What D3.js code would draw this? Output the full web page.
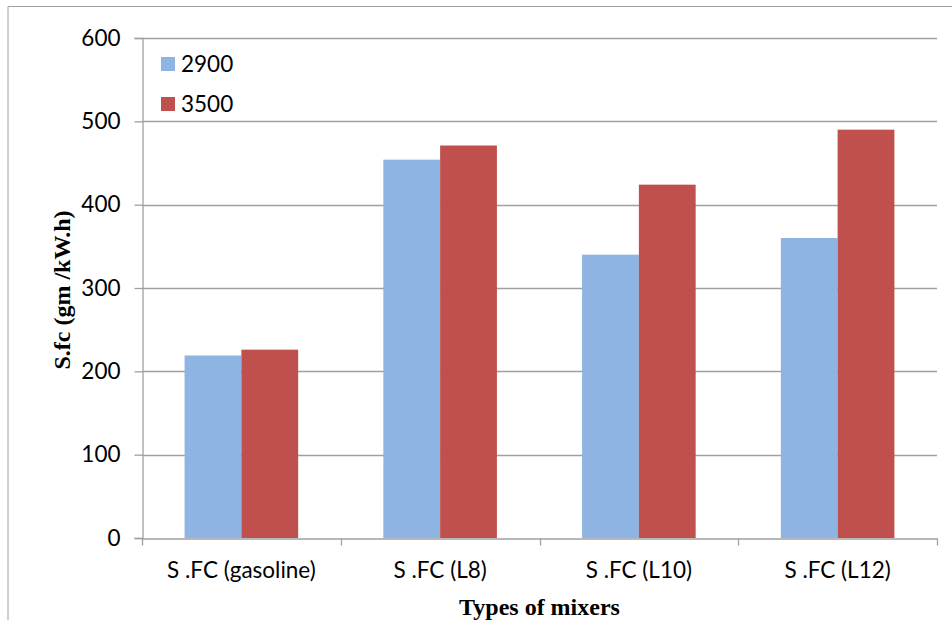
<!DOCTYPE html>
<html>
<head>
<meta charset="utf-8">
<script src="https://cdn.jsdelivr.net/npm/d3@7"></script>
<style>
  body { margin: 0; background: #fff; }
  svg { display: block; }
  .tick-label { font-family: "Lato", "Liberation Sans", sans-serif; font-size: 22.5px; fill: #000; }
  .axis-title { font-family: "Liberation Serif", "Times New Roman", serif; font-size: 24px; font-weight: bold; fill: #000; }
</style>
</head>
<body>
<div id="chart"></div>
<script>
const categories = ["S .FC (gasoline)", "S .FC (L8)", "S .FC (L10)", "S .FC (L12)"];
const seriesNames = ["2900", "3500"];
const values2900 = [219, 454, 340, 360];
const values3500 = [226, 471, 424, 490];
const yTicks = [0, 100, 200, 300, 400, 500, 600];
const colors = ["#8EB4E3", "#C0504D"];

const width = 952, height = 623;
const plot = {left: 142, right: 937, top: 38, bottom: 538};
const gridColor = "#a0a0a0";

const svg = d3.select('#chart').append('svg')
    .attr('width', width)
    .attr('height', height);

// outer frame (top and left edges only are visible)
svg.append('line')
    .attr('x1', 8).attr('x2', width).attr('y1', 6.5).attr('y2', 6.5)
    .attr('stroke', gridColor).attr('stroke-width', 1);
svg.append('line')
    .attr('x1', 8).attr('x2', 8).attr('y1', 6.5).attr('y2', 620)
    .attr('stroke', gridColor).attr('stroke-width', 1);

const y = d3.scaleLinear()
    .domain([0, 600])
    .range([plot.bottom, plot.top]);

const gap = 1.5 / 3.5;
const x0 = d3.scaleBand()
    .domain(categories)
    .range([plot.left, plot.right])
    .paddingInner(gap)
    .paddingOuter(gap / 2);

const x1 = d3.scaleBand()
    .domain(seriesNames)
    .range([0, x0.bandwidth()]);

// gridlines
svg.append('g')
    .selectAll('line')
    .data(yTicks.filter(d => d > 0))
    .join('line')
    .attr('x1', plot.left).attr('x2', plot.right)
    .attr('y1', d => Math.round(y(d)) + 0.5)
    .attr('y2', d => Math.round(y(d)) + 0.5)
    .attr('stroke', gridColor)
    .attr('stroke-width', 1.3);

// bars
const rows = categories.map((c, i) => ({cat: c, vals: [values2900[i], values3500[i]]}));
const groups = svg.append('g')
    .selectAll('g')
    .data(rows)
    .join('g')
    .attr('transform', d => "translate(" + x0(d.cat) + ",0)");

groups.selectAll('rect')
    .data(d => d.vals.map((v, j) => ({name: seriesNames[j], value: v, idx: j})))
    .join('rect')
    .attr('x', d => x1(d.name))
    .attr('y', d => y(d.value))
    .attr('width', x1.bandwidth())
    .attr('height', d => y(0) - y(d.value))
    .attr('fill', d => colors[d.idx]);

// y axis
const yAxis = d3.axisLeft(y)
    .tickValues(yTicks)
    .tickSize(8)
    .tickPadding(14);
const gy = svg.append('g')
    .attr('transform', "translate(" + (plot.left + 0.5) + ",0)")
    .call(yAxis);
gy.select('.domain').attr('stroke', gridColor).attr('stroke-width', 1.3);
gy.selectAll('.tick line').attr('stroke', gridColor).attr('stroke-width', 1.3);
gy.selectAll('.tick text')
    .attr('class', 'tick-label')
    .attr('font-size', null).attr('font-family', null);

// x axis
const xAxis = d3.axisBottom(x0)
    .tickSize(0)
    .tickPadding(24);
const gx = svg.append('g')
    .attr('transform', "translate(0," + (plot.bottom + 0.5) + ")")
    .call(xAxis);
gx.select('.domain').attr('stroke', gridColor).attr('stroke-width', 1.3);
gx.selectAll('.tick text')
    .attr('class', 'tick-label')
    .attr('font-size', null).attr('font-family', null);

// category boundary ticks
const step = x0.step();
gx.append('g')
    .selectAll('line')
    .data(d3.range(categories.length + 1))
    .join('line')
    .attr('x1', i => Math.round(plot.left + i * step) + 0.5)
    .attr('x2', i => Math.round(plot.left + i * step) + 0.5)
    .attr('y1', 0).attr('y2', 7)
    .attr('stroke', gridColor)
    .attr('stroke-width', 1.3);

// axis titles
svg.append('text')
    .attr('class', 'axis-title')
    .attr('x', (plot.left + plot.right) / 2)
    .attr('y', 615)
    .attr('text-anchor', 'middle')
    .text("Types of mixers");

svg.append('text')
    .attr('class', 'axis-title')
    .attr('transform', "translate(70," + 290 + ") rotate(-90)")
    .attr('text-anchor', 'middle')
    .text("S.fc (gm /kW.h)");

// legend
const legend = svg.append('g')
    .selectAll('g')
    .data(seriesNames)
    .join('g')
    .attr('transform', (d, i) => "translate(161," + (57 + i * 40) + ")");
legend.append('rect')
    .attr('width', 14).attr('height', 14)
    .attr('fill', (d, i) => colors[i]);
legend.append('text')
    .attr('class', 'tick-label')
    .attr('x', 20)
    .attr('y', 7)
    .attr('dy', '0.35em')
    .text(d => d);
</script>
</body>
</html>
